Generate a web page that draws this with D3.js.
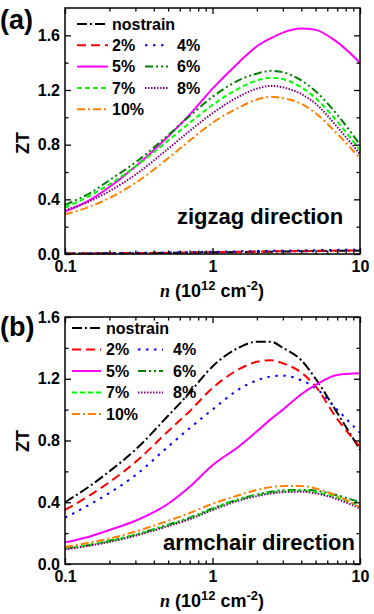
<!DOCTYPE html>
<html><head><meta charset="utf-8">
<script src="https://cdn.jsdelivr.net/npm/d3@7"></script>
<style>
html,body{margin:0;padding:0;background:#fff;}
svg{display:block;font-family:"Liberation Sans",Arial,sans-serif;}
</style></head>
<body><svg id="chart" width="374" height="614"></svg>
<script>
// ---------- data ----------
const nValues = [0.1,0.15,0.2,0.3,0.5,0.7,1,1.5,2,2.5,3,4,5,7,10];
const seriesNames = ["nostrain","2%","4%","5%","6%","7%","8%","10%"];
const seriesColors = ["#000000","#ff0000","#0000ff","#ff00ff","#008000","#00ff00","#800080","#ff8000"];
const seriesDash = ["10,3,2,3","9,5","2.5,5.5",null,"8,3,2,3,2,3","5,3","1.5,1.5","8,3,2,3"];

// zigzag direction (panel a)
const zzNostrain = [0.003,0.004,0.005,0.006,0.008,0.010,0.012,0.014,0.016,0.017,0.018,0.020,0.021,0.023,0.025];
const zz2  = [0.004,0.005,0.006,0.007,0.009,0.011,0.013,0.016,0.018,0.019,0.020,0.022,0.023,0.025,0.027];
const zz4  = [0.005,0.006,0.007,0.009,0.011,0.013,0.016,0.019,0.021,0.023,0.024,0.026,0.028,0.030,0.032];
const zz5  = [0.31,0.40,0.49,0.64,0.86,1.02,1.21,1.40,1.52,1.58,1.62,1.65,1.64,1.55,1.40];
const zz6  = [0.36,0.45,0.54,0.67,0.87,1.01,1.15,1.27,1.32,1.34,1.33,1.27,1.19,1.02,0.80];
const zz7  = [0.34,0.43,0.51,0.64,0.83,0.96,1.09,1.21,1.27,1.29,1.28,1.22,1.14,0.97,0.76];
const zz8  = [0.32,0.39,0.46,0.58,0.77,0.90,1.03,1.15,1.21,1.23,1.22,1.17,1.10,0.93,0.73];
const zz10 = [0.29,0.35,0.41,0.52,0.70,0.83,0.96,1.07,1.13,1.15,1.14,1.10,1.03,0.88,0.70];

// armchair direction (panel b)
const acNostrain = [0.40,0.51,0.60,0.74,0.96,1.11,1.28,1.40,1.44,1.44,1.40,1.32,1.20,0.98,0.74];
const ac2  = [0.35,0.45,0.53,0.66,0.86,0.99,1.14,1.26,1.31,1.32,1.30,1.24,1.15,0.94,0.76];
const ac4  = [0.30,0.39,0.46,0.575,0.76,0.88,1.00,1.13,1.19,1.215,1.22,1.19,1.14,1.00,0.85];
const ac5  = [0.14,0.18,0.22,0.28,0.39,0.50,0.64,0.76,0.86,0.94,1.00,1.10,1.16,1.225,1.235];
const ac6  = [0.10,0.125,0.15,0.19,0.255,0.30,0.36,0.42,0.45,0.468,0.478,0.48,0.475,0.445,0.40];
const ac7  = [0.10,0.125,0.148,0.188,0.25,0.295,0.355,0.415,0.445,0.462,0.47,0.475,0.465,0.43,0.375];
const ac8  = [0.095,0.12,0.143,0.183,0.245,0.29,0.35,0.41,0.44,0.457,0.465,0.468,0.458,0.42,0.36];
const ac10 = [0.11,0.14,0.165,0.21,0.28,0.33,0.39,0.445,0.48,0.498,0.505,0.505,0.49,0.44,0.37];

const xMajorTicks = [0.1,1,10];
const xTickLabels = ["0.1","1","10"];
const yMajorTicks = [0,0.4,0.8,1.2,1.6];
const yMinorTicks = [0.2,0.6,1.0,1.4];

// ---------- layout ----------
const svg = d3.select("#chart");
const L = 65, R = 360;
const panels = [
  {label:"(a)", top:8, bottom:254, yMax:1.8, series:[zzNostrain,zz2,zz4,zz5,zz6,zz7,zz8,zz10],
   dir:"zigzag direction", dirX:177, dirY:224, labelY:29, ztY:143,
   leg:{x1:77,x2:108,tx:112, x1b:145,x2b:168,txb:177, y0:24, dy:21.3}},
  {label:"(b)", top:317, bottom:564, yMax:1.6, series:[acNostrain,ac2,ac4,ac5,ac6,ac7,ac8,ac10],
   dir:"armchair direction", dirX:163, dirY:550, labelY:336, ztY:441,
   leg:{x1:72,x2:101,tx:106, x1b:138,x2b:163,txb:173, y0:328, dy:21.5}}
];

const minorX = [];
[0.1,1].forEach(d => { for (let k=2;k<=9;k++) minorX.push(d*k); });

panels.forEach(p => {
  const x = d3.scaleLog().domain([0.1,10]).range([L,R]);
  const y = d3.scaleLinear().domain([0,p.yMax]).range([p.bottom,p.top]);
  const g = svg.append("g");

  // lines
  const line = d3.line().x((d,i)=>x(nValues[i])).y(d=>y(d)).curve(d3.curveMonotoneX);
  p.series.forEach((vals,i) => {
    g.append("path").datum(vals).attr("d",line)
      .attr("fill","none").attr("stroke",seriesColors[i]).attr("stroke-width",2)
      .attr("stroke-dasharray",seriesDash[i]);
  });

  // axes
  const fontStyle = s => s.selectAll("text").attr("font-size",16).attr("font-weight","bold").attr("fill","#000");
  const clean = s => { s.select(".domain").remove(); s.selectAll("line").attr("stroke","#000").attr("stroke-width",1.3); };

  const bottom = g.append("g").attr("transform",`translate(0,${p.bottom})`)
    .call(d3.axisBottom(x).tickValues(xMajorTicks).tickFormat((d,i)=>xTickLabels[i]).tickSize(-6).tickPadding(7));
  clean(bottom); fontStyle(bottom);
  bottom.selectAll("text").attr("dy","0.71em");
  const bottomMin = g.append("g").attr("transform",`translate(0,${p.bottom})`)
    .call(d3.axisBottom(x).tickValues(minorX).tickFormat("").tickSize(-3.5));
  clean(bottomMin);
  const top = g.append("g").attr("transform",`translate(0,${p.top})`)
    .call(d3.axisTop(x).tickValues(xMajorTicks).tickFormat("").tickSize(-6));
  clean(top);
  const topMin = g.append("g").attr("transform",`translate(0,${p.top})`)
    .call(d3.axisTop(x).tickValues(minorX).tickFormat("").tickSize(-3.5));
  clean(topMin);

  const left = g.append("g").attr("transform",`translate(${L},0)`)
    .call(d3.axisLeft(y).tickValues(yMajorTicks).tickFormat(d3.format(".1f")).tickSize(-6).tickPadding(5));
  clean(left); fontStyle(left);
  const leftMin = g.append("g").attr("transform",`translate(${L},0)`)
    .call(d3.axisLeft(y).tickValues(yMinorTicks).tickFormat("").tickSize(-3.5));
  clean(leftMin);
  const right = g.append("g").attr("transform",`translate(${R},0)`)
    .call(d3.axisRight(y).tickValues(yMajorTicks).tickFormat("").tickSize(-6));
  clean(right);
  const rightMin = g.append("g").attr("transform",`translate(${R},0)`)
    .call(d3.axisRight(y).tickValues(yMinorTicks).tickFormat("").tickSize(-3.5));
  clean(rightMin);

  // frame
  g.append("rect").attr("x",L).attr("y",p.top).attr("width",R-L).attr("height",p.bottom-p.top)
    .attr("fill","none").attr("stroke","#000").attr("stroke-width",1.5);

  // panel label
  g.append("text").attr("x",0).attr("y",p.labelY).text(p.label)
    .attr("font-size",27).attr("font-weight","bold");

  // y title
  g.append("text").attr("transform",`translate(29,${p.ztY}) rotate(-90)`).attr("text-anchor","middle")
    .attr("font-size",18).attr("font-weight","bold").text("ZT");

  // x title
  const xt = g.append("text").attr("x",212).attr("y",p.bottom+43).attr("text-anchor","middle")
    .attr("font-size",18).attr("font-weight","bold");
  xt.append("tspan").attr("font-family","'Liberation Serif',serif").attr("font-style","italic").text("n");
  xt.append("tspan").text(" (10");
  xt.append("tspan").attr("font-size",13).attr("dy",-7).text("12");
  xt.append("tspan").attr("dy",7).attr("dx",5).text("cm");
  xt.append("tspan").attr("font-size",13).attr("dy",-7).text("-2");
  xt.append("tspan").attr("dy",7).text(")");

  // direction text
  g.append("text").attr("x",p.dirX).attr("y",p.dirY).attr("font-size",22).attr("font-weight","bold").text(p.dir);

  // legend
  const lg = p.leg;
  const layout = [[0,0],[1,0],[2,1],[3,0],[4,1],[5,0],[6,1],[7,0]]; // [seriesIndex, column]
  const rows = [0,1,1,2,2,3,3,4];
  layout.forEach(([si,col],k) => {
    const yy = lg.y0 + rows[k]*lg.dy;
    const x1 = col===0?lg.x1:lg.x1b, x2 = col===0?lg.x2:lg.x2b, tx = col===0?lg.tx:lg.txb;
    g.append("line").attr("x1",x1).attr("x2",x2).attr("y1",yy).attr("y2",yy)
      .attr("stroke",seriesColors[si]).attr("stroke-width",2).attr("stroke-dasharray",seriesDash[si]);
    g.append("text").attr("x",tx).attr("y",yy).attr("dy","0.36em").attr("font-size",16)
      .attr("font-weight","bold").text(seriesNames[si]);
  });
});
</script></body></html>
